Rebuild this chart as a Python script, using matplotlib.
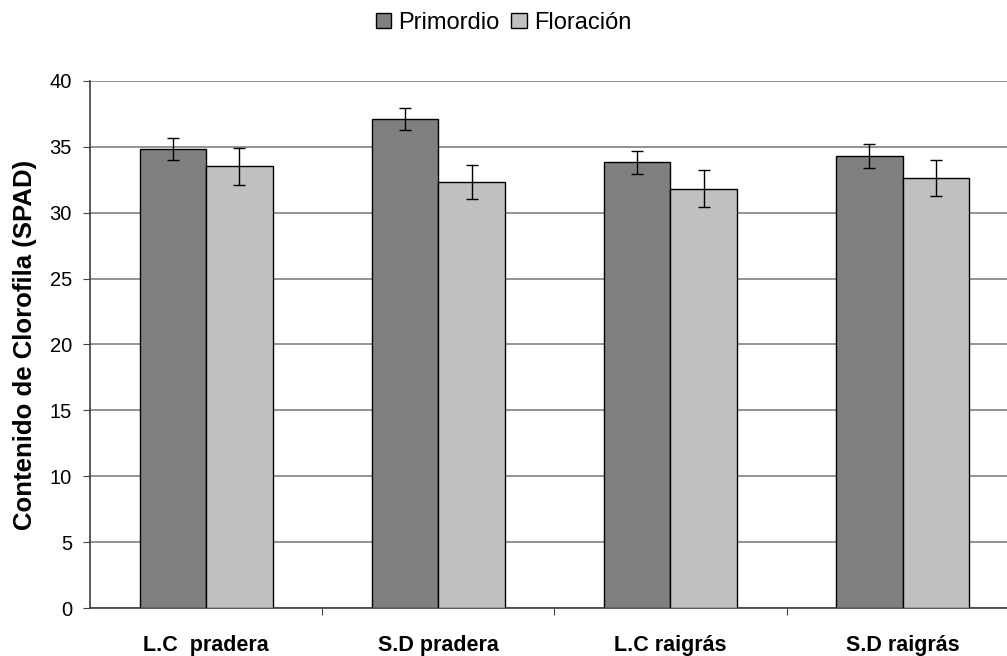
import numpy as np
from matplotlib import pyplot as plt

plt.rcParams['font.family'] = ['Liberation Sans', 'DejaVu Sans']

categories = ['L.C  pradera', 'S.D pradera', 'L.C raigrás', 'S.D raigrás']
primordio = [34.8, 37.1, 33.8, 34.3]
primordio_err = [0.85, 0.85, 0.87, 0.9]
floracion = [33.5, 32.3, 31.8, 32.6]
floracion_err = [1.4, 1.3, 1.4, 1.35]
y_ticks = [0, 5, 10, 15, 20, 25, 30, 35, 40]


def main():
    fig = plt.figure(figsize=(10.07, 6.56), dpi=100)
    ax = fig.add_axes([0.0894, 0.0727, 0.9223, 0.8043])

    x = np.arange(len(categories))
    w = 0.286
    err_style = dict(ecolor='black', capsize=4, elinewidth=1, capthick=1)

    ax.bar(x - w / 2, primordio, w, yerr=primordio_err, color='#808080',
           edgecolor='black', linewidth=1, label='Primordio', zorder=3,
           error_kw=err_style)
    ax.bar(x + w / 2, floracion, w, yerr=floracion_err, color='#c0c0c0',
           edgecolor='black', linewidth=1, label='Floración', zorder=3,
           error_kw=err_style)

    # Format axes
    ax.set_xlim(-0.5, len(categories) - 0.5)
    ax.set_ylim(0, 40)
    ax.set_yticks(y_ticks)
    ax.yaxis.grid(True, color='#808080', linewidth=1.2, zorder=0)
    for side in ['top', 'right']:
        ax.spines[side].set_visible(False)
    for side in ['left', 'bottom']:
        ax.spines[side].set_color('#404040')
        ax.spines[side].set_linewidth(1.2)

    ax.set_xticks(x + 0.5)
    ax.set_xticklabels([])
    ax.set_xticks(x, minor=True)
    ax.set_xticklabels(categories, minor=True, fontsize=15.5, fontweight='bold')
    ax.tick_params(axis='x', which='minor', length=0, pad=19)
    ax.tick_params(axis='x', which='major', length=5, direction='out',
                   color='#404040')
    ax.tick_params(axis='y', length=5, direction='out', labelsize=14.5,
                   color='#404040', pad=8)

    ax.set_ylabel('Contenido de Clorofila (SPAD)', fontsize=18.5,
                  fontweight='bold', labelpad=9)

    fig.legend(loc='upper center', bbox_to_anchor=(0.5, 1.0), ncol=2,
               frameon=False, fontsize=17, handlelength=0.65, handleheight=0.65,
               handletextpad=0.3, columnspacing=0.5, borderaxespad=0.1)

    fig.savefig('out.png', dpi=100)


main()
